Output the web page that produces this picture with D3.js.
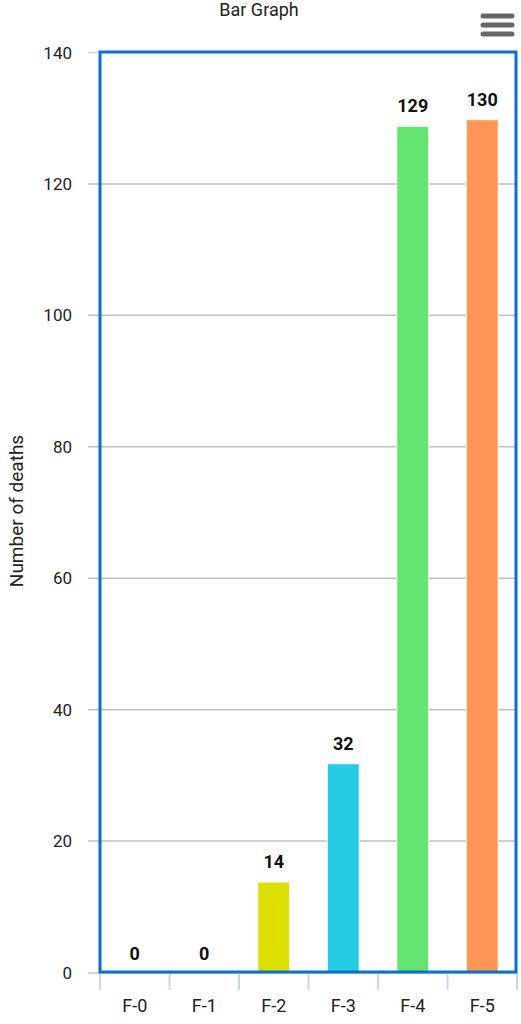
<!DOCTYPE html>
<html>
<head>
<meta charset="utf-8">
<script src="https://cdn.jsdelivr.net/npm/d3@7"></script>
<style>
  body { margin: 0; background: #fff; font-family: Roboto, "Noto Sans", sans-serif; }
</style>
</head>
<body>
<div id="chart"></div>
<script>
  const categories = ['F-0', 'F-1', 'F-2', 'F-3', 'F-4', 'F-5'];
  const deaths = [0, 0, 14, 32, 129, 130];
  const barColors = ['#50B432', '#ED561B', '#DDDF00', '#24CBE5', '#64E572', '#FF9655'];
  const yTicks = [0, 20, 40, 60, 80, 100, 120, 140];

  const W = 521, H = 1024;
  const margin = { top: 52, right: 4, bottom: 52, left: 100 };
  const width = W - margin.left - margin.right;
  const height = H - margin.top - margin.bottom;

  const svg = d3.select('#chart')
    .append('svg')
    .attr('width', W)
    .attr('height', H);

  // Title
  svg.append('text')
    .attr('x', 259)
    .attr('y', 16)
    .attr('text-anchor', 'middle')
    .style('font-size', '18px')
    .style('fill', '#222')
    .text('Bar Graph');

  // Hamburger menu
  const menu = svg.append('g').attr('transform', 'translate(483,14)');
  [0, 9, 18].forEach(dy => {
    menu.append('line')
      .attr('x1', 0).attr('x2', 29)
      .attr('y1', dy + 2).attr('y2', dy + 2)
      .attr('stroke', '#666')
      .attr('stroke-width', 5)
      .attr('stroke-linecap', 'round');
  });

  const g = svg.append('g')
    .attr('transform', `translate(${margin.left},${margin.top})`);

  const x = d3.scaleBand()
    .domain(categories)
    .range([0, width])
    .paddingInner(0.54)
    .paddingOuter(0.27);

  const y = d3.scaleLinear()
    .domain([0, 140])
    .range([height, 0]);

  // Grid lines
  g.append('g')
    .selectAll('line')
    .data(yTicks.filter(t => t > 0))
    .enter()
    .append('line')
    .attr('x1', -12)
    .attr('x2', width)
    .attr('y1', d => y(d) + 0.5)
    .attr('y2', d => y(d) + 0.5)
    .attr('stroke', d => d === 140 ? '#ccd6eb' : '#c0c0c0')
    .attr('stroke-width', 1.5);

  // Y tick labels
  g.append('g')
    .selectAll('text')
    .data(yTicks)
    .enter()
    .append('text')
    .attr('x', -28)
    .attr('y', d => y(d) + 6.5)
    .attr('text-anchor', 'end')
    .style('font-size', '17px')
    .style('fill', '#222')
    .text(d => d);

  // Y axis title
  g.append('text')
    .attr('transform', 'rotate(-90)')
    .attr('x', -(511 - margin.top))
    .attr('y', -77)
    .attr('text-anchor', 'middle')
    .style('font-size', '19px')
    .style('fill', '#222')
    .text('Number of deaths');

  // Bars (Highcharts-style: drawn slightly inset from the exact value)
  g.selectAll('.bar')
    .data(deaths)
    .enter()
    .append('rect')
    .attr('class', 'bar')
    .attr('x', (d, i) => x(categories[i]))
    .attr('y', d => y(d) + 2)
    .attr('width', x.bandwidth())
    .attr('height', d => Math.max(0, height - y(d) - 2))
    .attr('fill', (d, i) => barColors[i])
    .attr('stroke', '#fff')
    .attr('stroke-width', 1);

  // Data labels
  g.selectAll('.label')
    .data(deaths)
    .enter()
    .append('text')
    .attr('class', 'label')
    .attr('x', (d, i) => x(categories[i]) + x.bandwidth() / 2)
    .attr('y', d => y(d) - 12)
    .attr('text-anchor', 'middle')
    .style('font-size', '18px')
    .style('font-weight', 'bold')
    .style('fill', '#111')
    .text(d => d);

  // X axis line and ticks
  const step = width / categories.length;
  g.append('line')
    .attr('x1', -12).attr('x2', width)
    .attr('y1', height + 1).attr('y2', height + 1)
    .attr('stroke', '#ccd6eb')
    .attr('stroke-width', 2);

  g.append('g')
    .selectAll('line')
    .data(d3.range(categories.length + 1))
    .enter()
    .append('line')
    .attr('x1', i => i * step).attr('x2', i => i * step)
    .attr('y1', height).attr('y2', height + 18)
    .attr('stroke', '#ccd6eb')
    .attr('stroke-width', 2);

  g.append('g')
    .selectAll('text')
    .data(categories)
    .enter()
    .append('text')
    .attr('x', d => x(d) + x.bandwidth() / 2)
    .attr('y', height + 40)
    .attr('text-anchor', 'middle')
    .style('font-size', '18px')
    .style('fill', '#222')
    .text(d => d);

  // Plot border
  g.append('rect')
    .attr('x', 0)
    .attr('y', 0)
    .attr('width', width - 1)
    .attr('height', height)
    .attr('fill', 'none')
    .attr('stroke', '#0b72c7')
    .attr('stroke-width', 3);
</script>
</body>
</html>
